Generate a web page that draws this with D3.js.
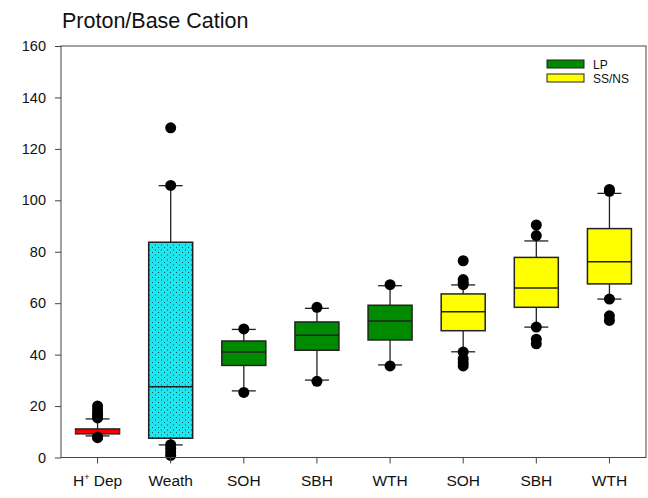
<!DOCTYPE html>
<html>
<head>
<meta charset="utf-8">
<script src="https://cdn.jsdelivr.net/npm/d3@7"></script>
<style>
	body { margin: 0; background: #fff; }
	svg { font-family: "Liberation Sans", Arial, sans-serif; }
</style>
</head>
<body>
<svg id="chart" width="648" height="498"></svg>
<script>
// box plot values
const categories = ['H+ Dep', 'Weath', 'SOH', 'SBH', 'WTH', 'SOH ', 'SBH ', 'WTH ']
const labels = ['H', 'Weath', 'SOH', 'SBH', 'WTH', 'SOH', 'SBH', 'WTH']
const groups = ['dep', 'weath', 'LP', 'LP', 'LP', 'SS', 'SS', 'SS']
const q1 = [9.2, 7.5, 35.8, 41.7, 45.7, 49.3, 58.4, 67.5]
const median = [10, 27.5, 41.0, 47.5, 53.1, 56.7, 65.9, 76.1]
const q3 = [11.1, 83.7, 45.3, 52.7, 59.2, 63.6, 77.8, 89.0]
const whiskerLow = [8.4, 4.9, 25.9, 30.1, 36.0, 41.1, 50.7, 61.6]
const whiskerHigh = [15.0, 105.7, 49.8, 58.0, 66.8, 67.1, 84.2, 102.7]
const outliers = [
	[20.0, 18.6, 17.2, 16.2, 15.4, 8.0, 7.7],
	[128.2, 105.8, 5.0, 3.6, 2.1, 0.8],
	[50.0, 25.3],
	[58.4, 29.6],
	[67.2, 35.6],
	[76.5, 69.2, 68.0, 67.2, 41.0, 38.3, 36.8, 35.6],
	[90.4, 86.3, 50.7, 46.0, 44.2],
	[104.2, 103.5, 61.6, 55.1, 53.3]
]
const yTicks = [0, 20, 40, 60, 80, 100, 120, 140, 160]
const legendNames = ['LP', 'SS/NS']
const colors = {dep: '#ff0000', weath: '#1fe6ee', LP: '#008a00', SS: '#ffff00'}

const svg = d3.select('#chart')
const margin = {left: 61, right: 2, top: 46, bottom: 40.5}
const width = 648 - margin.left - margin.right
const height = 498 - margin.top - margin.bottom

// dotted fill for the weathering box
let defs = svg.append('defs')
let pat = defs.append('pattern')
	.attr('id', 'dots')
	.attr('patternUnits', 'userSpaceOnUse')
	.attr('width', 6)
	.attr('height', 5)
pat.append('rect').attr('width', 6).attr('height', 5).attr('fill', colors.weath)
pat.append('rect').attr('x', 1).attr('y', 1).attr('width', 1).attr('height', 1).attr('fill', '#1a4a50')
pat.append('rect').attr('x', 4).attr('y', 3.5).attr('width', 1).attr('height', 1).attr('fill', '#1a4a50')

svg.append('text')
	.attr('x', 62)
	.attr('y', 28)
	.attr('font-size', 21.5)
	.attr('fill', '#111')
	.text('Proton/Base Cation')

let g = svg.append('g').attr('transform', `translate(${margin.left},${margin.top})`)

let x = d3.scaleBand().domain(categories).range([0, width]).padding(0)
let y = d3.scaleLinear().domain([0, 160]).range([height, 0])

let boxW = 44
let capW = 24

categories.forEach((c, i) => {
	let cx = x(c) + x.bandwidth() / 2
	let fill = groups[i] == 'weath' ? 'url(#dots)' : colors[groups[i]]

	// whiskers
	g.append('line')
		.attr('x1', cx).attr('x2', cx)
		.attr('y1', y(whiskerHigh[i])).attr('y2', y(q3[i]))
		.attr('stroke', '#222').attr('stroke-width', 1.3)
	g.append('line')
		.attr('x1', cx).attr('x2', cx)
		.attr('y1', y(q1[i])).attr('y2', y(whiskerLow[i]))
		.attr('stroke', '#222').attr('stroke-width', 1.3)
	;[whiskerLow[i], whiskerHigh[i]].forEach(v => {
		g.append('line')
			.attr('x1', cx - capW / 2).attr('x2', cx + capW / 2)
			.attr('y1', y(v)).attr('y2', y(v))
			.attr('stroke', '#222').attr('stroke-width', 1.3)
	})

	g.append('rect')
		.attr('x', cx - boxW / 2)
		.attr('y', y(q3[i]))
		.attr('width', boxW)
		.attr('height', y(q1[i]) - y(q3[i]))
		.attr('fill', fill)
		.attr('stroke', '#222')
		.attr('stroke-width', 1.5)

	g.append('line')
		.attr('x1', cx - boxW / 2).attr('x2', cx + boxW / 2)
		.attr('y1', y(median[i])).attr('y2', y(median[i]))
		.attr('stroke', groups[i] == 'dep' ? colors.dep : '#222')
		.attr('stroke-width', groups[i] == 'dep' ? 2.5 : 1.5)

	outliers[i].forEach(v => {
		g.append('circle')
			.attr('cx', cx)
			.attr('cy', y(v))
			.attr('r', 5.5)
			.attr('fill', '#000')
	})
})

// frame
g.append('rect')
	.attr('width', width).attr('height', height)
	.attr('fill', 'none').attr('stroke', '#444').attr('stroke-width', 1)

let yAxis = g.append('g')
	.call(d3.axisLeft(y).tickValues(yTicks).tickSize(6).tickPadding(9))
yAxis.select('.domain').remove()
yAxis.selectAll('line').attr('stroke', '#444')
yAxis.selectAll('text').attr('font-size', 14.5).attr('fill', '#111').attr('font-family', null)

let xAxis = g.append('g')
	.attr('transform', `translate(0,${height})`)
	.call(d3.axisBottom(x).tickSize(6).tickPadding(11).tickFormat((d, i) => labels[i]))
xAxis.select('.domain').remove()
xAxis.selectAll('line').attr('stroke', '#444')
xAxis.selectAll('text').attr('font-size', 15.5).attr('fill', '#111').attr('font-family', null)
// superscript plus on the deposition label
let depText = xAxis.select('.tick text')
depText.text('H')
depText.append('tspan').attr('dy', -6).attr('font-size', 9).text('+')
depText.append('tspan').attr('dy', 6).text(' Dep')

// legend
let legend = g.append('g').attr('transform', `translate(${547 - margin.left},${60 - margin.top})`)
legendNames.forEach((n, i) => {
	legend.append('rect')
		.attr('x', 0).attr('y', i * 14)
		.attr('width', 37).attr('height', 8)
		.attr('fill', i == 0 ? colors.LP : colors.SS)
		.attr('stroke', '#222').attr('stroke-width', 1)
	legend.append('text')
		.attr('x', 46).attr('y', i * 14 + 8.5)
		.attr('font-size', 12)
		.attr('fill', '#111')
		.text(n)
})
</script>
</body>
</html>
